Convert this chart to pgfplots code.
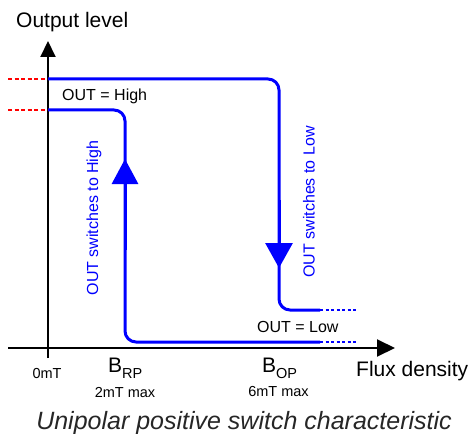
\documentclass[border=0pt]{standalone}
\usepackage{pgfplots}
\pgfplotsset{compat=1.18}
\usepackage{fontspec}
\setmainfont{Liberation Sans}
\usetikzlibrary{arrows.meta}
\newcommand{\fs}[1]{\fontsize{#1bp}{#1bp}\selectfont}
\begin{document}
\begin{tikzpicture}
\begin{axis}[scale only axis, width=471bp, height=434bp,
  xmin=0, xmax=471, ymin=0, ymax=434, y dir=reverse,
  hide axis, clip=false]
% axes
\addplot[black, line width=2bp, -{Triangle[width=17bp,length=18bp]}] coordinates {(8,348) (395,348)};
\addplot[black, line width=2bp, -{Triangle[width=15bp,length=16bp]}] coordinates {(48,358) (48,41)};
% red dashed reference levels
\addplot[color=red, line width=2bp, dash pattern=on 4bp off 2.5bp] coordinates {(8,79) (47,79)};
\addplot[color=red, line width=2bp, dash pattern=on 4bp off 2.5bp] coordinates {(8,110) (47,110)};
% upper branch
\addplot[blue, line width=3bp, rounded corners=11bp] coordinates {(48,79) (279,79) (279,310) (320,310)};
\addplot[color=blue, line width=2bp, dash pattern=on 3bp off 2.5bp] coordinates {(320,310) (357,310)};
% lower branch
\addplot[blue, line width=3bp, rounded corners=11bp] coordinates {(48,110) (125,110) (125,342) (320,342)};
\addplot[color=blue, line width=2bp, dash pattern=on 3bp off 2.5bp] coordinates {(320,342) (357,342)};
% direction arrows
\addplot[blue, line width=3bp, -{Triangle[width=27bp,length=25bp]}] coordinates {(279,200) (279,268)};
\addplot[blue, line width=3bp, -{Triangle[width=26bp,length=25bp]}] coordinates {(125,250) (125,159)};
% texts
\node[anchor=base west, inner sep=0] at (axis cs:16,28) {\fs{21}Output level};
\node[anchor=base west, inner sep=0] at (axis cs:62,100) {\fs{16}OUT = High};
\node[anchor=base west, inner sep=0] at (axis cs:257,332) {\fs{16}OUT = Low};
\node[rotate=90, inner sep=0, text=blue] at (axis cs:94,218) {\fs{16}OUT switches to High};
\node[rotate=90, inner sep=0, text=blue] at (axis cs:309,202) {\fs{16}OUT switches to Low};
\node[anchor=base, inner sep=0] at (axis cs:47,378) {\fs{14.5}0mT};
\node[anchor=base west, inner sep=0] at (axis cs:108,372) {\fs{21}B\raisebox{-6bp}{\fs{14.5}RP}};
\node[anchor=base, inner sep=0] at (axis cs:125,397) {\fs{14.5}2mT max};
\node[anchor=base west, inner sep=0] at (axis cs:262,372) {\fs{21}B\raisebox{-6bp}{\fs{14.5}OP}};
\node[anchor=base, inner sep=0] at (axis cs:278.5,396) {\fs{14.5}6mT max};
\node[anchor=base west, inner sep=0] at (axis cs:356,376) {\fs{21}Flux density};
\node[anchor=base, inner sep=0, text=black!85] at (axis cs:244,429) {\fs{25}\itshape Unipolar positive switch characteristic};
\end{axis}
\pgfresetboundingbox
\path[use as bounding box] (current axis.south west) rectangle (current axis.north east);
\end{tikzpicture}
\end{document}
